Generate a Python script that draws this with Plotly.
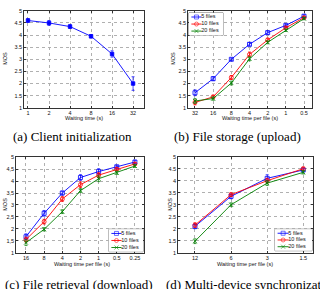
import plotly.graph_objects as go

W, H = 320, 289

# ---------------- data ----------------
series_names = ["5 files", "10 files", "20 files"]
y_ticks = [1, 1.5, 2, 2.5, 3, 3.5, 4, 4.5, 5]
y_text_dot = ["1", "1.5", "2", "2.5", "3", "3.5", "4", "4.5", "5"]
y_text_comma = ["1", "1,5", "2", "2,5", "3", "3,5", "4", "4,5", "5"]

# (a) Client initialization
a_labels = ["1", "2", "4", "8", "16", "32"]
a_mos = [4.6, 4.5, 4.35, 3.95, 3.22, 2.0]
a_err = [0.08, 0.1, 0.08, 0.07, 0.13, 0.28]

# (b) File storage (upload)
b_labels = ["32", "16", "8", "4", "2", "1", "0.5"]
b_5 = [1.62, 2.2, 3.0, 3.62, 4.1, 4.4, 4.78]
b_10 = [1.22, 1.45, 2.25, 3.2, 3.8, 4.3, 4.72]
b_20 = [1.28, 1.38, 2.02, 3.02, 3.7, 4.2, 4.68]
b_5_err = [0.12, 0.08, 0.05, 0.07, 0.07, 0.05, 0.06]
b_10_err = [0.1, 0.07, 0.08, 0.1, 0.07, 0.05, 0.05]
b_20_err = [0.1, 0.07, 0.08, 0.08, 0.06, 0.05, 0.05]

# (c) File retrieval (download)
c_labels = ["16", "8", "4", "2", "1", "0.5", "0.25"]
c_5 = [1.67, 2.65, 3.5, 4.15, 4.4, 4.6, 4.8]
c_10 = [1.55, 2.3, 3.25, 3.85, 4.25, 4.5, 4.72]
c_20 = [1.42, 1.98, 2.72, 3.6, 4.1, 4.35, 4.63]
c_5_err = [0.12, 0.12, 0.08, 0.12, 0.12, 0.06, 0.07]
c_10_err = [0.1, 0.1, 0.1, 0.12, 0.1, 0.06, 0.06]
c_20_err = [0.12, 0.07, 0.08, 0.08, 0.12, 0.07, 0.06]

# (d) Multi-device synchronization
d_labels = ["12", "6", "3", "1.5"]
d_5 = [2.1, 3.35, 4.1, 4.45]
d_10 = [2.15, 3.42, 4.0, 4.5]
d_20 = [1.48, 3.0, 3.9, 4.35]
d_5_err = [0.1, 0.1, 0.15, 0.08]
d_10_err = [0.1, 0.08, 0.1, 0.07]
d_20_err = [0.1, 0.08, 0.1, 0.07]

captions = ["(a) Client initialization", "(b) File storage (upload)",
            "(c) File retrieval (download)", "(d) Multi-device synchronization"]

# ---------------- style ----------------
COLORS = ["#0000ff", "#ff0000", "#008000"]
SYMBOLS = ["square-open", "circle-open", "x-thin-open"]
SANS = "Liberation Sans"
SERIF = "Liberation Serif"
FS = 5.5


def px(x):
    return x / W


def py(y):
    return 1 - y / H


fig = go.Figure()


def add_series(xa, ya, labels, values, err, color, symbol, msize=4):
    fig.add_trace(go.Scatter(
        x=list(range(len(labels))), y=values, xaxis=xa, yaxis=ya,
        mode="lines+markers", showlegend=False,
        line=dict(color=color, width=0.9),
        marker=dict(symbol=symbol, size=msize, color=color,
                    line=dict(color=color, width=0.8)),
        error_y=dict(type="data", array=err, color=color, thickness=0.7, width=1.5),
    ))


add_series("x", "y", a_labels, a_mos, a_err, COLORS[0], "square", 3.5)
for vals, err, c, s in zip([b_5, b_10, b_20], [b_5_err, b_10_err, b_20_err], COLORS, SYMBOLS):
    add_series("x2", "y2", b_labels, vals, err, c, s)
for vals, err, c, s in zip([c_5, c_10, c_20], [c_5_err, c_10_err, c_20_err], COLORS, SYMBOLS):
    add_series("x3", "y3", c_labels, vals, err, c, s)
for vals, err, c, s in zip([d_5, d_10, d_20], [d_5_err, d_10_err, d_20_err], COLORS, SYMBOLS):
    add_series("x4", "y4", d_labels, vals, err, c, s)

# legends (drawn on small inset axes)
for xa, ya in [("x5", "y5"), ("x6", "y6"), ("x7", "y7")]:
    for i, (name, c, s) in enumerate(zip(series_names, COLORS, SYMBOLS)):
        fig.add_trace(go.Scatter(
            x=[0.07, 0.22, 0.37], y=[i, i, i], xaxis=xa, yaxis=ya,
            mode="lines+markers", showlegend=False, hoverinfo="skip",
            line=dict(color=c, width=0.9),
            marker=dict(symbol=s, size=[0, 4, 0], color=c, line=dict(color=c, width=0.8)),
        ))
        fig.add_trace(go.Scatter(
            x=[0.36], y=[i], xaxis=xa, yaxis=ya, mode="text", text=[name],
            textposition="middle right", showlegend=False, hoverinfo="skip",
            textfont=dict(family=SANS, size=FS, color="#111"),
        ))

# ---------------- layout ----------------
panels = {
    "": (24, 144, 8, 107, [-0.19, 5.52], a_labels, y_text_dot),
    "2": (188, 312, 8, 107, [-0.385, 6.44], b_labels, y_text_dot),
    "3": (16, 144, 157.5, 255, [-0.55, 6.5], c_labels, y_text_comma),
    "4": (178, 313, 157, 255, [-0.47, 3.27], d_labels, y_text_dot),
}

layout = dict(
    width=W, height=H, margin=dict(l=0, r=0, t=0, b=0),
    paper_bgcolor="white", plot_bgcolor="white", showlegend=False,
    font=dict(family=SANS, size=FS, color="#111"),
)

for k, (l, r, t, b, rx, labels, ytext) in panels.items():
    layout["xaxis" + k] = dict(
        domain=[px(l), px(r)], anchor="y" + k, range=rx,
        tickmode="array", tickvals=list(range(len(labels))), ticktext=labels,
        showgrid=True, gridcolor="#b0b0b0", griddash="dot", gridwidth=0.6,
        showline=True, linecolor="#333", linewidth=0.7, mirror="ticks",
        ticks="inside", ticklen=2, tickcolor="#333", tickwidth=0.6,
        tickfont=dict(size=FS, family=SANS, color="#111"), zeroline=False,
    )
    layout["yaxis" + k] = dict(
        domain=[py(b), py(t)], anchor="x" + k, range=[1, 5],
        tickmode="array", tickvals=y_ticks, ticktext=ytext,
        showgrid=True, gridcolor="#b0b0b0", griddash="dot", gridwidth=0.6,
        showline=True, linecolor="#333", linewidth=0.7, mirror="ticks",
        ticks="inside", ticklen=2, tickcolor="#333", tickwidth=0.6,
        tickfont=dict(size=FS, family=SANS, color="#111"), zeroline=False,
    )

legend_boxes = {
    "5": (189, 223, 10, 33),
    "6": (109, 143, 231, 254),
    "7": (275, 312, 231, 253),
}
shapes = []
for k, (l, r, t, b) in legend_boxes.items():
    layout["xaxis" + k] = dict(domain=[px(l), px(r)], anchor="y" + k, range=[0, 1],
                               visible=False, fixedrange=True)
    layout["yaxis" + k] = dict(domain=[py(b), py(t)], anchor="x" + k, range=[2.6, -0.6],
                               visible=False, fixedrange=True)
    shapes.append(dict(type="rect", xref="x%s domain" % k, yref="y%s domain" % k,
                       x0=0, x1=1, y0=0, y1=1, fillcolor="white",
                       line=dict(color="#222", width=0.6), layer="below"))

annotations = []
xtitles = [("Waiting time (s)", 84, 117.5), ("Waiting time per file (s)", 250, 117.5),
           ("Waiting time per file (s)", 82, 267), ("Waiting time per file (s)", 245, 267)]
for text, x, y in xtitles:
    annotations.append(dict(text=text, x=px(x), y=py(y), xref="paper", yref="paper",
                            showarrow=False, xanchor="center", yanchor="middle",
                            font=dict(size=FS, family=SANS, color="#111")))
ytitles = [(5, 57), (173, 57), (5, 206), (170, 206)]
for x, y in ytitles:
    annotations.append(dict(text="MOS", x=px(x), y=py(y), xref="paper", yref="paper",
                            showarrow=False, textangle=-90, xanchor="center", yanchor="middle",
                            font=dict(size=FS, family=SANS, color="#111")))
cap_pos = [(72, 136, "center"), (237, 136, "center"), (79, 287, "center"), (164, 287, "left")]
for text, (x, y, anc) in zip(captions, cap_pos):
    annotations.append(dict(text=text, x=px(x), y=py(y), xref="paper", yref="paper",
                            showarrow=False, xanchor=anc, yanchor="middle",
                            font=dict(size=13, family=SERIF, color="#000")))

layout["shapes"] = shapes
layout["annotations"] = annotations
fig.update_layout(**layout)

fig.write_html("out.html")
